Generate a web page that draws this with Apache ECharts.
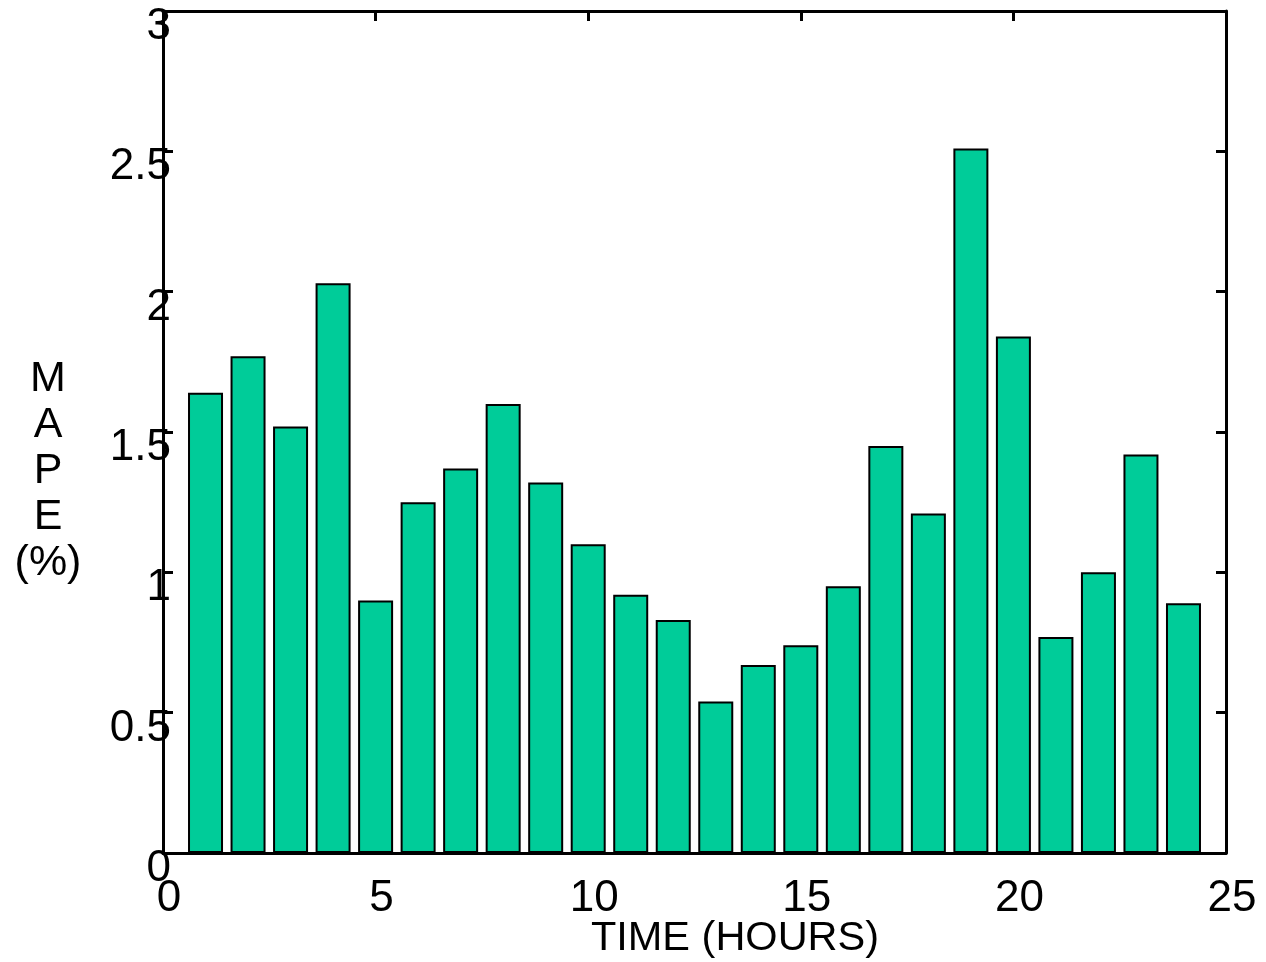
<!DOCTYPE html>
<html>
<head>
<meta charset="utf-8">
<script src="https://cdn.jsdelivr.net/npm/echarts@6/dist/echarts.min.js"></script>
<style>
  html, body { margin: 0; padding: 0; background: #fff; }
  #main { width: 1266px; height: 962px; }
</style>
</head>
<body>
<div id="main"></div>
<script>
// hours 1..24 and the MAPE per hour
var hours = [1, 2, 3, 4, 5, 6, 7, 8, 9, 10, 11, 12, 13, 14, 15, 16, 17, 18, 19, 20, 21, 22, 23, 24];
var mape = [1.64, 1.77, 1.52, 2.03, 0.90, 1.25, 1.37, 1.60, 1.32, 1.10, 0.92, 0.83,
            0.54, 0.67, 0.74, 0.95, 1.45, 1.21, 2.51, 1.84, 0.77, 1.00, 1.42, 0.89];

var font = 'Liberation Sans, Arial, sans-serif';
var myChart = echarts.init(document.getElementById('main'));

var seriesData = [];
for (var i = 0; i < hours.length; i++) {
  seriesData.push([hours[i], mape[i]]);
}

function boxAxis(pos, min, max, interval, labels) {
  return {
    type: 'value',
    position: pos,
    min: min,
    max: max,
    interval: interval,
    splitLine: { show: false },
    axisLine: { show: true, onZero: false, lineStyle: { color: '#000', width: 3 } },
    axisTick: { show: true, inside: true, length: 10, lineStyle: { color: '#000', width: 3 } },
    axisLabel: labels || { show: false }
  };
}

option = {
  animation: false,
  backgroundColor: '#fff',
  grid: { left: 163, right: 40, top: 11, bottom: 109, outerBoundsMode: 'none', containLabel: false },
  xAxis: [
    boxAxis('bottom', 0, 25, 5, {
      show: true, color: '#000', fontFamily: font, fontSize: 44,
      margin: 24, padding: [0, 0, 0, 12],
      showMinLabel: true, showMaxLabel: true
    }),
    boxAxis('top', 0, 25, 5)
  ],
  yAxis: [
    boxAxis('left', 0, 3, 0.5, {
      show: true, color: '#000', fontFamily: font, fontSize: 44,
      margin: -8, verticalAlign: 'top', lineHeight: 32,
      showMinLabel: true, showMaxLabel: true
    }),
    boxAxis('right', 0, 3, 0.5)
  ],
  graphic: [
    {
      type: 'text', x: 48, y: 471,
      style: {
        text: 'M\nA\nP\nE\n(%)',
        font: '43px ' + font, fill: '#000',
        textAlign: 'center', textVerticalAlign: 'middle', lineHeight: 46
      }
    },
    {
      type: 'text', x: 735, y: 939,
      style: {
        text: 'TIME (HOURS)',
        font: '41.5px ' + font, fill: '#000',
        textAlign: 'center', textVerticalAlign: 'middle'
      }
    }
  ],
  series: [
    {
      type: 'bar',
      xAxisIndex: 0,
      yAxisIndex: 0,
      barWidth: 35,
      data: seriesData,
      itemStyle: { color: '#00CC99', borderColor: '#000', borderWidth: 2 }
    }
  ]
};
myChart.setOption(option);
</script>
</body>
</html>
